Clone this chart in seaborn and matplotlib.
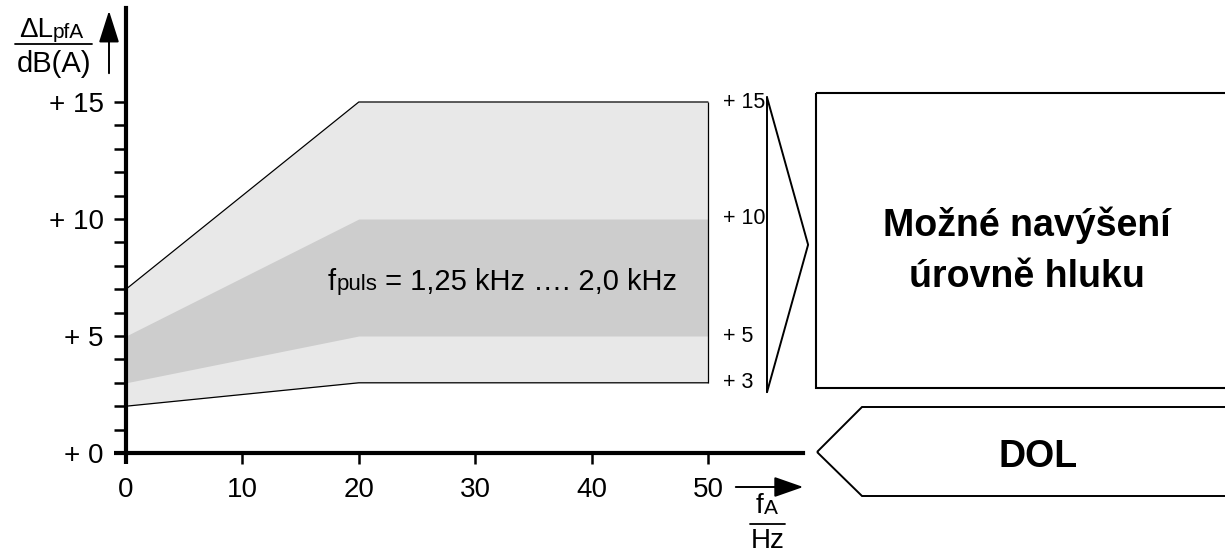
import matplotlib
matplotlib.use("Agg")
import matplotlib.pyplot as plt
from matplotlib.patches import Polygon, FancyArrowPatch
from matplotlib.lines import Line2D
import seaborn as sns

# data
freq = [0, 20, 50]
outer_low = [2, 3, 3]
outer_high = [7, 15, 15]
inner_low = [3, 5, 5]
inner_high = [5, 10, 10]
y_major = [0, 5, 10, 15]
y_labels = ["+ 0", "+ 5", "+ 10", "+ 15"]
x_major = [0, 10, 20, 30, 40, 50]
right_levels = [15, 10, 5, 3]
right_labels = ["+ 15", "+ 10", "+ 5", "+ 3"]

sns.set_style("ticks")
plt.rcParams['font.family'] = ['Liberation Sans', 'DejaVu Sans']
for k in ['text.color', 'axes.labelcolor', 'xtick.color', 'ytick.color', 'axes.edgecolor']:
    plt.rcParams[k] = 'black'

W, H = 1225, 556
fig = plt.figure(figsize=(W / 100, H / 100), dpi=100)


def fx(x):
    return x / W


def fy(y):
    return 1 - y / H


# axes: x=0 at px 126, y=0 at px 453
ax = fig.add_axes([fx(126), fy(453), (803 - 126) / W, (453 - 8) / H])
ax.set_xlim(0, (803 - 126) / 11.64)
ax.set_ylim(0, (453 - 8) / 23.4)

light = "#e8e8e8"
dark = "#cdcdcd"
ax.fill_between(freq, outer_low, outer_high, color=light, lw=0)
ax.fill_between(freq, inner_low, inner_high, color=dark, lw=0)
sns.lineplot(x=freq, y=outer_high, ax=ax, color="black", lw=0.9)
sns.lineplot(x=freq, y=outer_low, ax=ax, color="black", lw=0.9)
ax.vlines(freq[-1], outer_low[-1], outer_high[-1], color="black", lw=0.9)


def sub_label(x, y, main, sub, rest, size, subsize):
    # main text, smaller subscript near the baseline, then the rest of the text
    t = ax.text(x, y, main, fontsize=size, ha="left", va="baseline",
                transform=fig.transFigure, clip_on=False)
    drop = 0.6
    t = ax.annotate(sub, xy=(1, 0), xycoords=t, xytext=(0, drop),
                    textcoords="offset points", fontsize=subsize, ha="left", va="bottom",
                    annotation_clip=False)
    if rest:
        ax.annotate(rest, xy=(1, 0), xycoords=t, xytext=(0, -drop),
                    textcoords="offset points", fontsize=size, ha="left", va="bottom",
                    annotation_clip=False)


sub_label(fx(328), fy(290), "f", "puls", " = 1,25 kHz …. 2,0 kHz", 21, 16)

sns.despine(ax=ax)
for s in ["left", "bottom"]:
    ax.spines[s].set_linewidth(3)
ax.set_xticks(x_major)
ax.set_xticklabels([str(v) for v in x_major], fontsize=20)
ax.set_yticks(y_major)
ax.set_yticklabels(y_labels, fontsize=20)
ax.set_yticks(range(0, 16), minor=True)
ax.tick_params(axis="y", which="both", direction="out", length=9, width=1.8, pad=7)
ax.tick_params(axis="x", which="both", direction="out", length=8, width=1.8, pad=9)
ax.xaxis.get_major_ticks()[0].tick1line.set_markeredgewidth(3)
ax.yaxis.get_major_ticks()[0].tick1line.set_markeredgewidth(3)

# right-hand level labels and bracket
for lv, lb in zip(right_levels, right_labels):
    ax.text(51.3, lv, lb, ha="left", va="center", fontsize=15.5, clip_on=False)
bx = 55.07
ytop = max(right_levels) + 0.2
ybot = min(right_levels) - 0.4
ax.add_line(Line2D([bx, bx], [ybot, ytop], color="black", lw=1.4, clip_on=False))
ax.add_line(Line2D([bx, 58.6, bx], [ytop, (ytop + ybot) / 2, ybot],
                   color="black", lw=1.4, clip_on=False))

# boxes on the right
box = Polygon([(fx(816), fy(93)), (fx(1240), fy(93)), (fx(1240), fy(388)), (fx(816), fy(388))],
              closed=True, fill=False, ec="black", lw=1.5, transform=fig.transFigure)
fig.patches.append(box)
fig.text(fx(1027), fy(251), "Možné navýšení\núrovně hluku", ha="center", va="center",
         fontsize=27, fontweight="bold", linespacing=1.55)
dol = Polygon([(fx(817), fy(452)), (fx(862), fy(407)), (fx(1240), fy(407)),
               (fx(1240), fy(496)), (fx(862), fy(496))],
              closed=True, fill=False, ec="black", lw=1.4, transform=fig.transFigure)
fig.patches.append(dol)
fig.text(fx(1038), fy(457), "DOL", ha="center", va="center", fontsize=27, fontweight="bold")

# y axis label as fraction with arrow
sub_label(fx(19), fy(37), "ΔL", "pfA", "", 20, 15)
fig.add_artist(Line2D([fx(15), fx(92)], [fy(44), fy(44)], color="black", lw=1.3))
fig.text(fx(54.5), fy(72), "dB(A)", ha="center", va="baseline", fontsize=21)
fig.add_artist(FancyArrowPatch((fx(109), fy(76)), (fx(109), fy(8)), transform=fig.transFigure,
                               arrowstyle="-|>,head_length=1.1,head_width=0.35",
                               mutation_scale=18, color="black", lw=1.4))

# x axis label as fraction with arrow
fig.add_artist(FancyArrowPatch((fx(733), fy(487)), (fx(806), fy(487)), transform=fig.transFigure,
                               arrowstyle="-|>,head_length=1.0,head_width=0.35",
                               mutation_scale=18, color="black", lw=1.4))
sub_label(fx(756), fy(513), "f", "A", "", 20, 15)
fig.add_artist(Line2D([fx(750), fx(785)], [fy(524), fy(524)], color="black", lw=1.3))
fig.text(fx(767.5), fy(548), "Hz", ha="center", va="baseline", fontsize=20)

fig.savefig("out.png", dpi=100)
